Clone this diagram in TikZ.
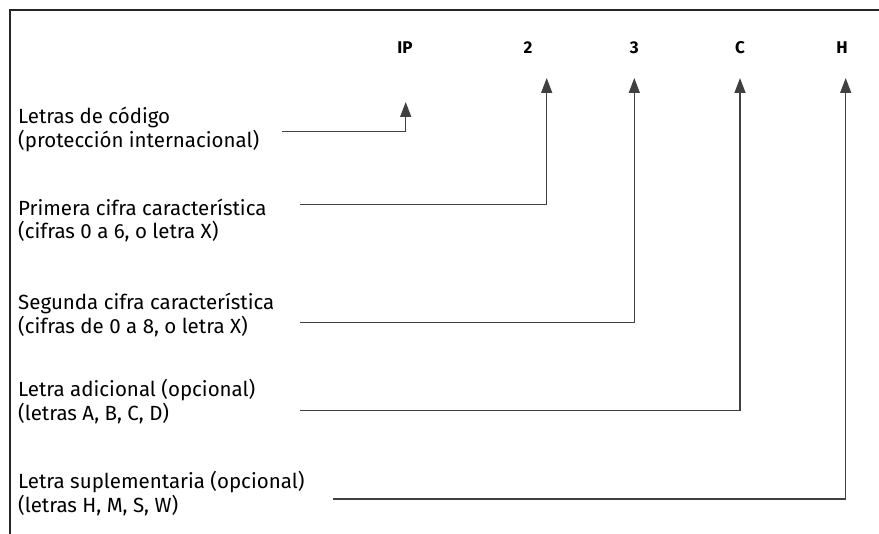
\documentclass[tikz,border=0pt]{standalone}
\usepackage{fontspec}
\setmainfont{Fira Sans}
\usetikzlibrary{arrows.meta,positioning}

\begin{document}
\begin{tikzpicture}[x=1pt,y=-1pt,
  lbl/.style={anchor=west,align=left,inner sep=0pt,font=\fontsize{20.5}{23.5}\selectfont},
  code/.style={inner sep=0pt,font=\bfseries\fontsize{17}{19}\selectfont},
  lead/.style={draw=black!75,line width=1.4pt},
  ptr/.style={lead,-{Triangle[width=11pt,length=15pt]}}]
\useasboundingbox (0,0) rectangle (879,534);
% frame
\draw[lead,draw=black!85] (10,534) -- (10,10) -- (879,10);
% code letters
\node[code] (ip) at (405,48) {IP};
\node[code] (c2) at (528,48) {2};
\node[code] (c3) at (634.3,48) {3};
\node[code] (cc) at (740,48) {C};
\node[code] (ch) at (842,48) {H};
% arrow tips
\coordinate (tip) at (405.7,102);
\coordinate (t2) at (546.7,78);
\coordinate (t3) at (634.3,78);
\coordinate (tc) at (740,78);
\coordinate (th) at (845.7,78);
% texts
\node[lbl] (l1) at (18,129.5) {Letras de código\\(protección internacional)};
\node[lbl] (l2) at (18,220.5) {Primera cifra característica\\(cifras 0 a 6, o letra X)};
\node[lbl] (l3) at (18,315) {Segunda cifra característica\\(cifras de 0 a 8, o letra X)};
\node[lbl] (l4) at (18,401.5) {Letra adicional (opcional)\\(letras A, B, C, D)};
\node[lbl] (l5) at (18,493.5) {Letra suplementaria (opcional)\\(letras H, M, S, W)};
% leader lines
\coordinate (s1) at (282,131.7);
\coordinate (s2) at (300,204.5);
\coordinate (s3) at (300,322.5);
\coordinate (s4) at (300,410.5);
\coordinate (s5) at (333,499);
\draw[ptr] (s1) -| (tip);
\draw[ptr] (s2) -| (t2);
\draw[ptr] (s3) -| (t3);
\draw[ptr] (s4) -| (tc);
\draw[ptr] (s5) -| (th);
\end{tikzpicture}
\end{document}
